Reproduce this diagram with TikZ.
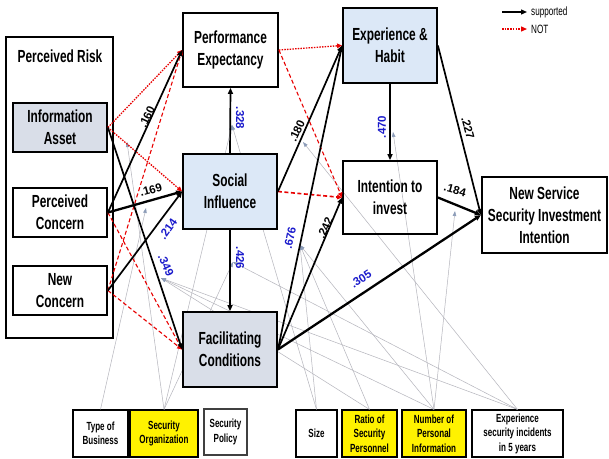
\documentclass[tikz,border=0pt]{standalone}
\usepackage{fontspec}
\setmainfont{Liberation Sans}
\newfontfamily\cf[FakeStretch=0.68]{Liberation Sans}
\usetikzlibrary{arrows.meta}
\definecolor{lblue}{HTML}{DCE8F7}
\definecolor{lgray}{HTML}{D9DEE8}
\definecolor{myred}{HTML}{E80000}
\definecolor{myblue}{HTML}{1A1ACC}
\definecolor{mgray}{HTML}{B4B4BC}
\definecolor{agray}{HTML}{8C9CB8}
\tikzset{
 box/.style={draw=black, line width=1.8pt, align=center, font=\cf\bfseries\fontsize{17.5}{22}\selectfont, inner sep=0pt},
 cbox/.style={draw=black, line width=1.1pt, align=center, font=\cf\bfseries\fontsize{11.8}{14.5}\selectfont, inner sep=0pt, minimum height=47pt},
 sup/.style={draw=black, line width=1.7pt, -{Triangle[length=6pt,width=5pt]}},
 supb/.style={sup, line width=2.3pt},
 notdot/.style={draw=myred, line width=1.3pt, dash pattern=on 1.5pt off 1.2pt, -{Triangle[length=5pt,width=4.5pt]}},
 notdash/.style={draw=myred, line width=1.1pt, dash pattern=on 4pt off 2.5pt, -{Triangle[length=5pt,width=4.5pt]}},
 modline/.style={draw=mgray, line width=0.5pt, -{Triangle[length=5pt,width=3.5pt,color=agray]}},
 lab/.style={font=\bfseries\fontsize{11.5}{12}\selectfont, inner sep=0pt},
 blab/.style={lab, text=myblue},
 legtext/.style={font=\cf\fontsize{12}{12}\selectfont, anchor=west, inner sep=0pt},
}
\begin{document}
\begin{tikzpicture}[x=1pt,y=-1pt]
\useasboundingbox (0,0) rectangle (609,458);
\fill[white] (0,0) rectangle (609,458);

% moderator coordinates
\coordinate (A1) at (127,142);
\coordinate (A2) at (146,208);
\coordinate (A3) at (161,278);
\coordinate (A4) at (232,125);
\coordinate (A5) at (233,262);
\coordinate (A6) at (303,142);
\coordinate (A7) at (300,245);
\coordinate (A8) at (393,132);
\coordinate (A9) at (455,211);

% bottom control boxes
\node[cbox, minimum width=55pt] (TB) at (100.5,433.5) {Type of\\Business};
\node[cbox, minimum width=68pt, fill=yellow] (SO) at (164,433.5) {Security\\Organization};
\node[cbox, minimum width=43pt, minimum height=46pt, draw=black!75, line width=1.4pt] (SP) at (225.5,432) {Security\\Policy};
\node[cbox, minimum width=41pt] (SZ) at (316.5,433.5) {Size};
\node[cbox, minimum width=55pt, fill=yellow] (RS) at (369.5,433.5) {Ratio of\\Security\\Personnel};
\node[cbox, minimum width=64pt, fill=yellow] (NP) at (434,433.5) {Number of\\Personal\\Information};
\node[cbox, minimum width=91pt] (EX) at (517.5,433.5) {Experience\\security incidents\\in 5 years};

% moderating gray lines
\draw[modline] (TB.north) -- (A2);
\draw[modline] (SO.north) -- (A1);
\draw[modline] (SO.north) -- (A4);
\draw[modline] (SO.north) -- (A5);
\draw[modline] (SZ.north) -- (A4);
\draw[modline] (SZ.north) -- (A7);
\draw[modline] (RS.north) -- (A7);
\draw[modline] (RS.north) -- (A3);
\draw[modline] (NP.north) -- (A9);
\draw[modline] (NP.north) -- (A8);
\draw[modline] (NP.north) -- (A3);
\draw[modline] (NP.north) -- (A7);
\draw[modline] (EX.north) -- (A6);
\draw[modline] (EX.north) -- (A5);
\draw[modline] (EX.north) -- (A3);

% main boxes
\node[box, minimum width=107pt, minimum height=301pt] (PR) at (59.5,187.5) {};
\node[font=\cf\bfseries\fontsize{17.5}{20}\selectfont, inner sep=0pt] (PRt) at (60,56) {Perceived Risk};
\node[box, fill=lgray, minimum width=94pt, minimum height=49pt] (IA) at (60,127.5) {Information\\Asset};
\node[box, fill=white, minimum width=94pt, minimum height=49pt] (PC) at (60,212.5) {Perceived\\Concern};
\node[box, fill=white, minimum width=94pt, minimum height=49pt] (NC) at (60,290.5) {New\\Concern};
\node[box, fill=white, minimum width=95pt, minimum height=74pt] (PE) at (230.5,50) {Performance\\Expectancy};
\node[box, fill=lblue, minimum width=94pt, minimum height=75pt] (SI) at (230,191.5) {Social\\Influence};
\node[box, fill=lgray, minimum width=94pt, minimum height=75pt] (FC) at (230,349.5) {Facilitating\\Conditions};
\node[box, fill=lblue, minimum width=94pt, minimum height=75pt] (EH) at (390,45.5) {Experience \&\\Habit};
\node[box, minimum width=94pt, minimum height=73pt] (IT) at (390,197.5) {Intention to\\invest};
\node[box, fill=white, line width=2.2pt, minimum width=125pt, minimum height=76pt] (NS) at (544.5,215) {New Service\\Security Investment\\Intention};

% not supported paths
\draw[notdot] (IA.east) -- (PE.west);
\draw[notdot] (IA.east) -- (SI.west);
\draw[notdash] (PC.east) -- (FC.west);
\draw[notdash] (NC.east) -- (PE.west);
\draw[notdash] (NC.east) -- (FC.west);
\draw[notdot] (PE.east) -- (EH.west);
\draw[notdash] (PE.east) -- (IT.west);
\draw[notdash, line width=1.6pt] (SI.east) -- (IT.west);

% supported paths
\draw[sup] (PC.east) -- (PE.west);
\draw[supb] (PC.east) -- (SI.west);
\draw[sup] (NC.east) -- (SI.west);
\draw[sup] (IA.east) -- (FC.west);
\draw[sup] (SI.north) -- (PE.south);
\draw[sup] (SI.south) -- (FC.north);
\draw[sup] (SI.east) -- (EH.west);
\draw[sup] (FC.east) -- (EH.west);
\draw[sup] (FC.east) -- (IT.west);
\draw[supb] (FC.east) -- (NS.west);
\draw[sup] (EH.south) -- (IT.north);
\draw[sup] (EH.east) -- (NS.west);
\draw[supb] (IT.east) -- (NS.west);

% coefficient labels
\node[lab, rotate=65] (l160) at (147,117) {.160};
\node[lab, rotate=15] (l169) at (151,190) {.169};
\node[blab, rotate=55] (l214) at (168,229) {.214};
\node[blab, rotate=-65] (l349) at (166,265) {.349};
\node[blab, rotate=-90] (l328) at (240,118) {.328};
\node[blab, rotate=-90] (l426) at (240,258) {.426};
\node[lab, rotate=65] (l180) at (297,131) {.180};
\node[blab, rotate=78] (l676) at (290,238) {.676};
\node[lab, rotate=66] (l242) at (325,228) {.242};
\node[blab, rotate=33] (l305) at (361,279) {.305};
\node[blab, rotate=90] (l470) at (382,127) {.470};
\node[lab, rotate=-75] (l227) at (468,128) {.227};
\node[lab, rotate=-15] (l184) at (455,190) {.184};

% legend
\coordinate (L1a) at (502,12);
\coordinate (L1b) at (527,12);
\coordinate (L2a) at (502,29);
\coordinate (L2b) at (527,29);
\draw[draw=black, line width=1.3pt, -{Triangle[length=6pt,width=5pt]}] (L1a) -- (L1b);
\draw[draw=myred, line width=1.3pt, dash pattern=on 1.5pt off 1.2pt, -{Triangle[length=6pt,width=5pt]}] (L2a) -- (L2b);
\node[legtext] (L1t) at (531,12) {supported};
\node[legtext] (L2t) at (531,29) {NOT};
\end{tikzpicture}
\end{document}
